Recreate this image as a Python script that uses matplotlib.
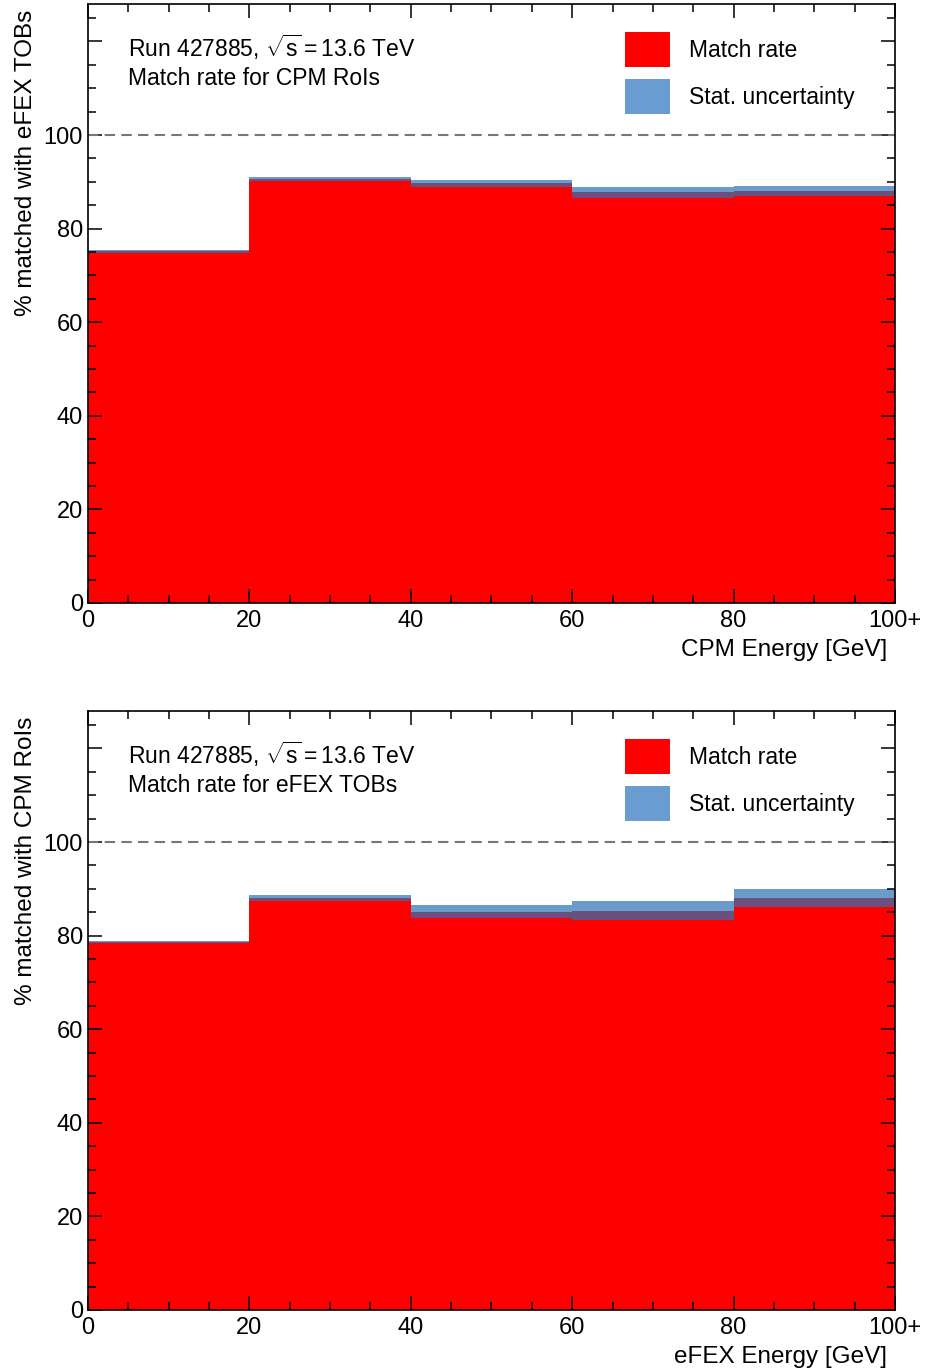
import numpy as np
import matplotlib
matplotlib.use("Agg")
import matplotlib.pyplot as plt
from matplotlib.patches import Patch

plt.rcParams["font.family"] = ["Liberation Sans", "DejaVu Sans"]
plt.rcParams["mathtext.fontset"] = "custom"
plt.rcParams["mathtext.rm"] = "Liberation Sans"
plt.rcParams["mathtext.it"] = "Liberation Sans"

# bin edges (last bin is overflow 100+)
edges = [0, 20, 40, 60, 80, 100]
xtick_labels = ["0", "20", "40", "60", "80", "100+"]

# top: CPM RoIs matched with eFEX TOBs
cpm_rate = [75.15, 90.5, 89.7, 87.8, 88.0]
cpm_err = [0.35, 0.43, 0.75, 1.17, 1.14]

# bottom: eFEX TOBs matched with CPM RoIs
efex_rate = [78.6, 88.05, 85.15, 85.3, 87.95]
efex_err = [0.25, 0.67, 1.32, 2.0, 1.92]

red = "#ff0000"
blue = "#2c71b5"
fs_text = 16.5
fs_tick = 17
fs_label = 17.5

fig = plt.figure(figsize=(9.25, 13.71), dpi=100)
ax1 = fig.add_axes([0.0951, 0.5602, 0.8725, 0.4369])
ax2 = fig.add_axes([0.0951, 0.0445, 0.8725, 0.4369])


def draw_panel(ax, rate, err, subtitle, xlabel, ylabel):
    rate = np.array(rate)
    err = np.array(err)
    ax.stairs(rate, edges, fill=True, color=red, lw=0)
    # stat band: rate +- err, semi-transparent so the lower half goes purple over red
    ax.stairs(rate + err, edges, baseline=rate - err, fill=True, color=blue, alpha=0.7, lw=0)
    ax.axhline(100, color="#777777", ls=(0, (5, 3)), lw=1.5)
    ax.set_xlim(0, 100)
    ax.set_ylim(0, 128)
    ax.set_xticks(edges)
    ax.set_xticklabels(xtick_labels)
    ax.set_xticks(np.arange(0, 101, 5), minor=True)
    ax.set_yticks([0, 20, 40, 60, 80, 100, 120])
    ax.set_yticklabels(["0", "20", "40", "60", "80", "100", ""])
    ax.set_yticks(np.arange(0, 128, 5), minor=True)
    ax.tick_params(which="both", direction="in", top=True, right=True, labelsize=fs_tick, width=1.1)
    ax.tick_params(which="major", length=10)
    ax.tick_params(which="minor", length=6)
    ax.tick_params(axis="x", pad=5)
    for s in ax.spines.values():
        s.set_linewidth(1.2)
    ax.set_xlabel(xlabel, fontsize=fs_label, loc="right", labelpad=5)
    ax.xaxis.label.set_x(0.99)
    ax.set_ylabel(ylabel, fontsize=fs_label, loc="top", labelpad=5)
    ax.yaxis.label.set_y(0.99)
    ax.text(0.05, 0.912, r"Run 427885, $\sqrt{\mathrm{s}}=$13.6 TeV", transform=ax.transAxes, fontsize=fs_text)
    ax.text(0.05, 0.864, subtitle, transform=ax.transAxes, fontsize=fs_text)
    handles = [Patch(facecolor=red, edgecolor="none", label="Match rate"),
               Patch(facecolor="#6a9bd1", edgecolor="none", label="Stat. uncertainty")]
    ax.legend(handles=handles, loc="upper left", bbox_to_anchor=(0.665, 0.953), frameon=False,
              fontsize=fs_text, handlelength=2.0, handleheight=1.97, handletextpad=0.79, labelspacing=0.52,
              borderaxespad=0, borderpad=0)


draw_panel(ax1, cpm_rate, cpm_err, "Match rate for CPM RoIs", "CPM Energy [GeV]", "% matched with eFEX TOBs")
draw_panel(ax2, efex_rate, efex_err, "Match rate for eFEX TOBs", "eFEX Energy [GeV]", "% matched with CPM RoIs")

fig.savefig("out.png", dpi=100)
